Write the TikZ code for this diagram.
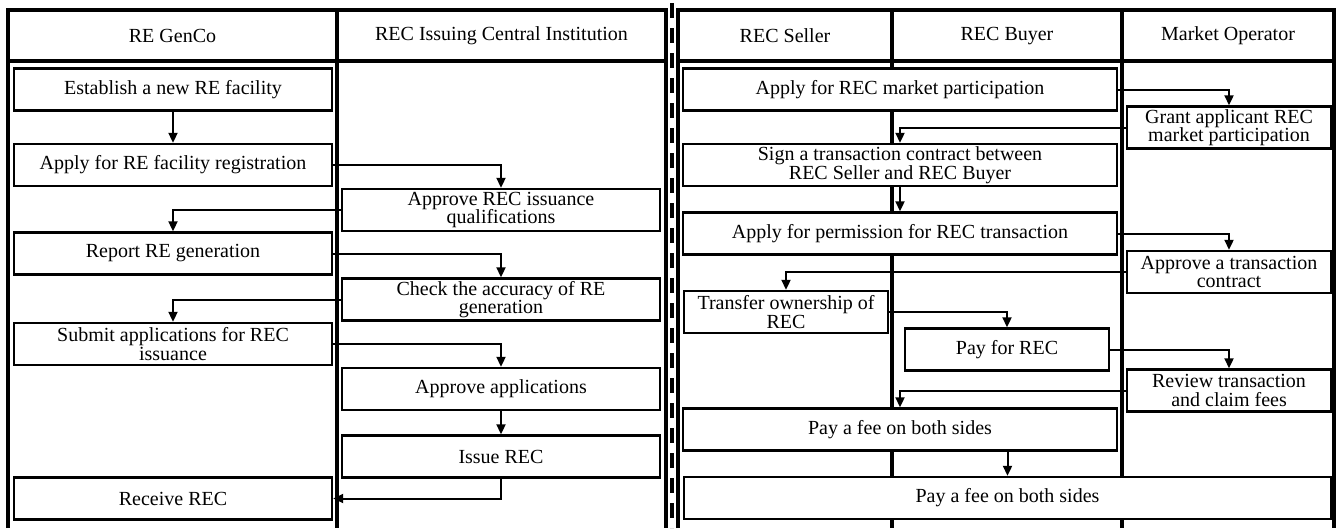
\documentclass[tikz,border=0pt]{standalone}
\usepackage{fontspec}
\setmainfont{Liberation Serif}
\usetikzlibrary{arrows.meta}
\begin{document}
\begin{tikzpicture}[x=1pt,y=-1pt,
  frame/.style={line width=3.2pt},
  txt/.style={font=\fontsize{20}{18.5}\selectfont},
  box/.style={txt, draw, line width=2.4pt, fill=white, inner sep=0pt, align=center, minimum height=42pt},
  wbox/.style={box, minimum width=318pt},
  mbox/.style={box, minimum width=204pt},
  lbox/.style={box, minimum width=434pt},
  arr/.style={line width=2pt, -{Triangle[length=10pt,width=9pt]}},
  sep/.style={line width=4pt, dash pattern=on 15pt off 10pt}
]
\useasboundingbox (0,0) rectangle (1337,528);

% ---------- left table: RE GenCo / issuing institution ----------
\draw[frame] (8,528) -- (8,10) -- (666,10) -- (666,528);
\draw[frame] (8,61) -- (666,61);
\draw[frame] (337,10) -- (337,528);
\node[txt] (hgen) at (172.5,36) {RE GenCo};
\node[txt] (hiss) at (501.5,36) {REC Issuing Central Institution};

% separator between the two tables
\coordinate (septop) at (672,3);
\coordinate (sepbot) at (672,528);
\draw[sep] (septop) -- (sepbot);

% ---------- right table: market ----------
\draw[frame] (678,528) -- (678,10) -- (1334,10) -- (1334,528);
\draw[frame] (678,61) -- (1334,61);
\draw[frame] (892,10) -- (892,528);
\draw[frame] (1122,10) -- (1122,528);
\node[txt] (hsel) at (785,36) {REC Seller};
\node[txt] (hbuy) at (1007,36) {REC Buyer};
\node[txt] (hmo) at (1228,36) {Market Operator};

% ---------- issuing process ----------
\node[wbox] (est) at (173,89.5) {Establish a new RE facility};
\node[wbox] (reg) at (173,165) {Apply for RE facility registration};
\node[wbox] (qual) at (501,210) {Approve REC issuance\\qualifications};
\node[wbox] (rep) at (173,253.5) {Report RE generation};
\node[wbox] (chk) at (501,299.5) {Check the accuracy of RE\\generation};
\node[wbox] (sub) at (173,344) {Submit applications for REC\\issuance};
\node[wbox] (apa) at (501,389) {Approve applications};
\node[wbox] (iss) at (501,456.5) {Issue REC};
\node[wbox] (rcv) at (173,498.5) {Receive REC};

\draw[arr] (est) -- (reg);
\draw[arr] (reg.east) -| (qual.north);
\draw[arr] (qual.west) -| (rep.north);
\draw[arr] (rep.east) -| (chk.north);
\draw[arr] (chk.west) -| (sub.north);
\draw[arr] (sub.east) -| (apa.north);
\draw[arr] (apa) -- (iss);
\draw[arr] (iss.south) |- (rcv.east);

% ---------- trading process ----------
\node[lbox] (mkt) at (900,89.5) {Apply for REC market participation};
\node[mbox] (grant) at (1229,127.5) {Grant applicant REC\\market participation};
\node[lbox] (sign) at (900,165) {Sign a transaction contract between\\REC Seller and REC Buyer};
\node[lbox] (perm) at (900,233.5) {Apply for permission for REC transaction};
\node[mbox] (aptx) at (1229,272) {Approve a transaction\\contract};
\node[mbox] (tran) at (786,312) {Transfer ownership of\\REC};
\node[mbox] (pay) at (1007,349.5) {Pay for REC};
\node[mbox] (rev) at (1229,390.5) {Review transaction\\and claim fees};
\node[lbox] (fee) at (900,429.5) {Pay a fee on both sides};
\node[box, minimum width=647pt] (feeall) at (1007.5,498) {Pay a fee on both sides};

\draw[arr] (mkt.east) -| (grant.north);
\draw[arr] (grant.west) -| (sign.north);
\draw[arr] (sign) -- (perm);
\draw[arr] (perm.east) -| (aptx.north);
\draw[arr] (aptx.west) -| (tran.north);
\draw[arr] (tran.east) -| (pay.north);
\draw[arr] (pay.east) -| (rev.north);
\draw[arr] (rev.west) -| (fee.north);
\draw[arr] (feeall.north |- fee.south) -- (feeall.north);
\end{tikzpicture}
\end{document}
